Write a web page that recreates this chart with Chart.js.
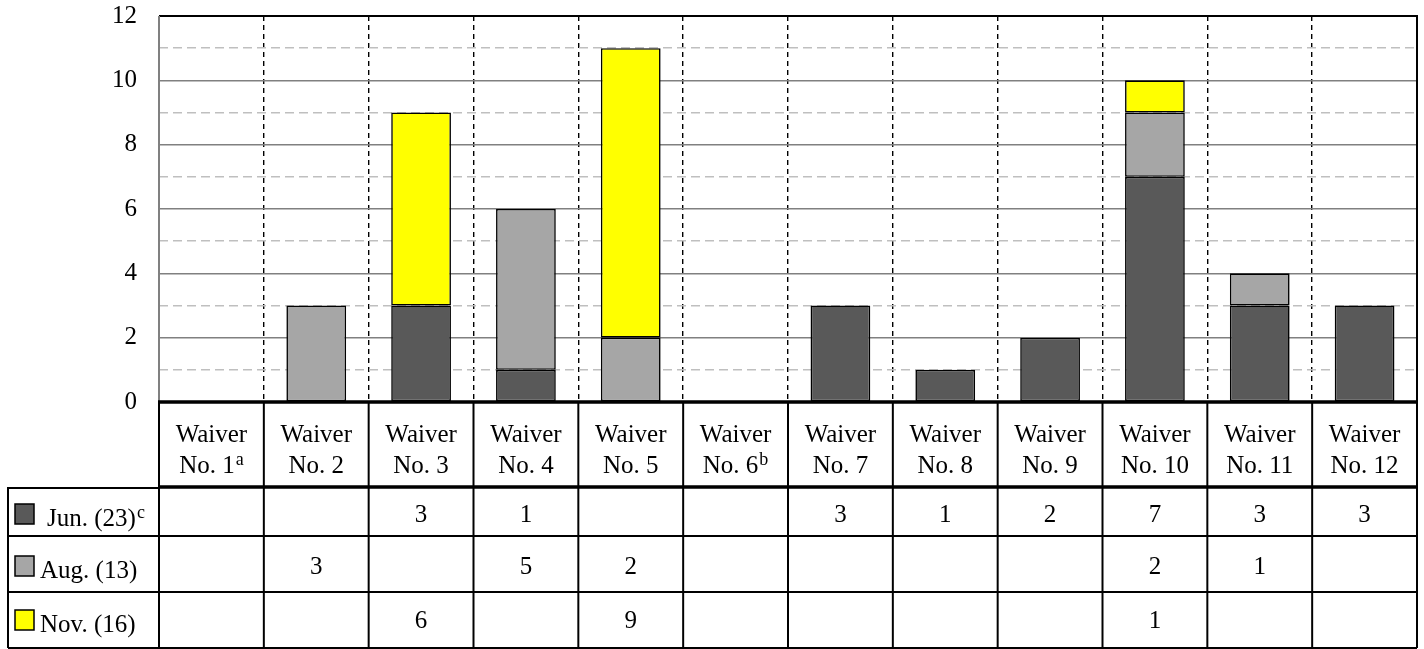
<!DOCTYPE html>
<html>
<head>
<meta charset="utf-8">
<title>Waivers by month</title>
<script src="https://cdn.jsdelivr.net/npm/chart.js@4.4.0/dist/chart.umd.min.js"></script>
<style>
  html, body { margin: 0; padding: 0; background: #fff; }
  #wrap { width: 1424px; height: 649px; position: relative; }
</style>
</head>
<body>
<div id="wrap"><canvas id="grafico"></canvas></div>
<script>
// data
const categoryTop = 'Waiver';
const categories = ['No. 1', 'No. 2', 'No. 3', 'No. 4', 'No. 5', 'No. 6',
                    'No. 7', 'No. 8', 'No. 9', 'No. 10', 'No. 11', 'No. 12'];
const categoryNotes = ['a', '', '', '', '', 'b', '', '', '', '', '', ''];
const seriesNames = ['Jun. (23)', 'Aug. (13)', 'Nov. (16)'];
const seriesNotes = ['c', '', ''];
const junValues = [null, null, 3, 1, null, null, 3, 1, 2, 7, 3, 3];
const augValues = [null, 3, null, 5, 2, null, null, null, null, 2, 1, null];
const novValues = [null, null, 6, null, 9, null, null, null, null, 1, null, null];
const yTicks = [0, 2, 4, 6, 8, 10, 12];

const colores = ['#595959', '#a6a6a6', '#ffff00'];
const serie = [junValues, augValues, novValues];
const fuente = '"Liberation Serif", "Times New Roman", serif';

// text with a raised note letter, centred (or left aligned) at x
function textoNota(ctx, txt, nota, x, y, align) {
  ctx.font = '25px ' + fuente;
  var w1 = ctx.measureText(txt).width;
  ctx.font = '18px ' + fuente;
  var w2 = nota ? ctx.measureText(nota).width + 1 : 0;
  var x0 = align === 'left' ? x : x - (w1 + w2) / 2;
  ctx.textAlign = 'left';
  ctx.textBaseline = 'alphabetic';
  ctx.font = '25px ' + fuente;
  ctx.fillText(txt, x0, y);
  if (nota) {
    ctx.font = '18px ' + fuente;
    ctx.fillText(nota, x0 + w1 + 1, y - 8);
  }
}

const tablaPlugin = {
  id: 'tabla',
  afterDraw(chart) {
    var ctx = chart.ctx;
    var area = chart.chartArea;
    var xs = chart.scales.x;
    var n = categories.length;
    var left = area.left, right = area.right, top = area.top, bottom = area.bottom;
    var hdrBottom = bottom + 85;
    var rows = [hdrBottom, hdrBottom + 49, hdrBottom + 105, hdrBottom + 161];
    var boxLeft = 8;

    ctx.save();
    ctx.strokeStyle = '#000';
    ctx.fillStyle = '#000';

    // frame of the plot area
    ctx.lineWidth = 2;
    ctx.beginPath();
    ctx.moveTo(left, top); ctx.lineTo(right, top); ctx.lineTo(right, bottom);
    ctx.stroke();
    ctx.strokeStyle = '#808080';
    ctx.beginPath();
    ctx.moveTo(left, top); ctx.lineTo(left, bottom);
    ctx.stroke();
    ctx.strokeStyle = '#000';

    // vertical lines of the table
    ctx.lineWidth = 2;
    for (var i = 0; i <= n; i++) {
      var bx = xs.getPixelForValue(i - 0.5);
      ctx.beginPath();
      ctx.moveTo(bx, bottom);
      ctx.lineTo(bx, rows[3]);
      ctx.stroke();
    }
    ctx.beginPath();
    ctx.moveTo(boxLeft, rows[0]); ctx.lineTo(boxLeft, rows[3]);
    ctx.stroke();

    // horizontal lines
    for (var r = 1; r < rows.length; r++) {
      ctx.beginPath();
      ctx.moveTo(boxLeft, rows[r]); ctx.lineTo(right, rows[r]);
      ctx.stroke();
    }
    ctx.beginPath();
    ctx.moveTo(boxLeft, rows[0] + 1); ctx.lineTo(left, rows[0] + 1);
    ctx.stroke();
    ctx.lineWidth = 3.5;
    ctx.beginPath();
    ctx.moveTo(left - 1, bottom); ctx.lineTo(right + 1, bottom);
    ctx.moveTo(left - 1, rows[0]); ctx.lineTo(right + 1, rows[0]);
    ctx.stroke();

    // header labels
    for (var c = 0; c < n; c++) {
      var cx = xs.getPixelForValue(c);
      textoNota(ctx, categoryTop, '', cx, bottom + 40);
      textoNota(ctx, categories[c], categoryNotes[c], cx, bottom + 71);
    }

    // rows: swatch, name, values
    var offs = [39, 42, 40];
    var nameX = [47, 40, 40];
    for (var s = 0; s < seriesNames.length; s++) {
      var base = rows[s] + offs[s];
      ctx.fillStyle = colores[s];
      ctx.fillRect(15, base - 22, 19, 20);
      ctx.lineWidth = 1.5;
      ctx.strokeStyle = '#000';
      ctx.strokeRect(15, base - 22, 19, 20);
      ctx.fillStyle = '#000';
      textoNota(ctx, seriesNames[s], seriesNotes[s], nameX[s], base, 'left');
      for (var k = 0; k < n; k++) {
        var v = serie[s][k];
        if (v !== null) {
          textoNota(ctx, String(v), '', xs.getPixelForValue(k), base - 4);
        }
      }
    }
    ctx.restore();
  }
};

function hacerSet(label, data, color) {
  return {
    label: label,
    data: data,
    backgroundColor: color,
    borderColor: '#000',
    borderWidth: 1.6,
    borderSkipped: false,
    categoryPercentage: 1,
    barPercentage: 0.57
  };
}

new Chart(document.getElementById('grafico'), {
  type: 'bar',
  data: {
    labels: categories,
    datasets: [
      hacerSet(seriesNames[0], junValues, colores[0]),
      hacerSet(seriesNames[1], augValues, colores[1]),
      hacerSet(seriesNames[2], novValues, colores[2])
    ]
  },
  options: {
    responsive: true,
    maintainAspectRatio: false,
    animation: false,
    layout: { padding: { top: 16, right: 7, left: 0, bottom: 0 } },
    plugins: {
      legend: { display: false },
      title: { display: false },
      tooltip: { enabled: false }
    },
    scales: {
      x: {
        stacked: true,
        offset: true,
        ticks: { display: false },
        grid: { offset: true, color: '#000', lineWidth: 1.4, drawTicks: false },
        border: { display: false, dash: [5, 4] },
        afterFit: function (scale) { scale.height = 247; }
      },
      y: {
        stacked: true,
        min: 0,
        max: 12,
        ticks: {
          stepSize: 1,
          maxTicksLimit: 20,
          autoSkip: false,
          padding: 22,
          color: '#000',
          font: { family: fuente, size: 25 },
          callback: function (v) { return yTicks.indexOf(v) >= 0 ? String(v) : ''; }
        },
        grid: {
          drawTicks: false,
          lineWidth: 1.5,
          color: function (c) { return c.tick && c.tick.value % 2 === 0 ? '#808080' : '#bfbfbf'; }
        },
        border: {
          display: false,
          dash: function (c) { return c.tick && c.tick.value % 2 === 0 ? [] : [9, 5]; }
        },
        afterFit: function (scale) {
          scale.width = 159;
          scale.paddingTop = 0;
          scale.paddingBottom = 0;
        }
      }
    }
  },
  plugins: [tablaPlugin]
});
</script>
</body>
</html>
